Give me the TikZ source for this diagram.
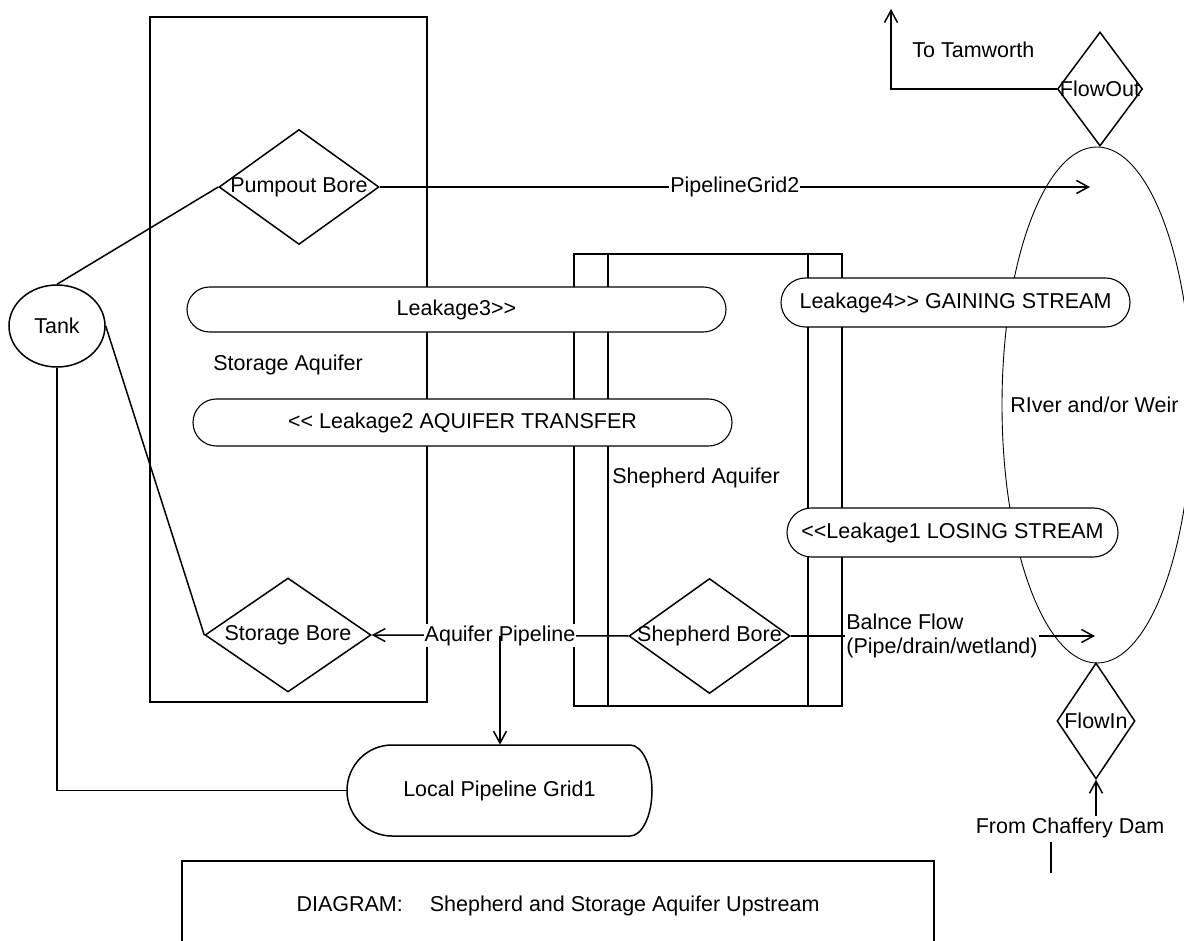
\documentclass[tikz,border=0pt]{standalone}
\usepackage{fontspec}
\setmainfont{Liberation Sans}
\usetikzlibrary{arrows.meta,shapes.geometric,shapes.misc}

\tikzset{
  ln/.style={line width=0.75pt},
  arr/.style={ln, -{Straight Barb[length=6pt,width=6.5pt]}},
  dia/.style={diamond, draw, ln, inner sep=0pt, fill=white},
  leak/.style={rounded rectangle, draw, line width=0.55pt, fill=white, inner sep=0pt},
  lbl/.style={fill=white, inner sep=0.5pt},
  txt/.style={inner sep=0pt, anchor=west},
  every node/.style={font=\fontsize{10.75}{12}\selectfont},
}

\begin{document}
\begin{tikzpicture}[x=0.5pt, y=-0.5pt]
  \useasboundingbox (0,0) rectangle (1184,941);
  \fill[white] (0,0) rectangle (1184,941);
  \clip (0,0) rectangle (1184,941);

  % aquifer outlines
  \draw[ln] (150,17) rectangle (427,702);
  \draw[ln] (574,254) rectangle (842,706);
  \draw[ln] (608,254) rectangle (808,706);

  % bores, tank and pipeline grid
  \node[dia, minimum width=80pt, minimum height=57.5pt, label=center:Pumpout Bore] (pb) at (299,187) {};
  \node[dia, minimum width=83pt, minimum height=57pt, label=center:Storage Bore] (sb) at (288,635) {};
  \node[dia, minimum width=80.5pt, minimum height=57.5pt, label=center:Shepherd Bore] (shb) at (709.5,636) {};
  \node[dia, minimum width=42.5pt, minimum height=57pt, label=center:FlowOut] (fo) at (1100,89) {};
  \node[dia, minimum width=39pt, minimum height=58pt, label=center:FlowIn] (fi) at (1096,721) {};
  \node[draw, ln, ellipse, minimum width=48pt, minimum height=41pt, inner sep=0pt] (tank) at (57,326) {Tank};
  \node[minimum width=152.5pt, minimum height=45.5pt, inner sep=0pt] (lpg) at (499.5,790.5) {Local Pipeline Grid1};
  \draw[ln] (392,745) -- (630,745)
    arc[start angle=-90, end angle=90, x radius=22, y radius=45.5]
    -- (392,836)
    arc[start angle=90, end angle=270, x radius=45, y radius=45.5] -- cycle;

  \coordinate (rgrid) at (1090,187);
  \coordinate (bfend) at (1095,636);
  \coordinate (tam) at (891,9);

  % pipes and flows
  \draw[ln] (tank.north) -- (pb.west);
  \draw[ln] (tank.east) -- (sb.west);
  \draw[ln] (tank.south) |- (lpg.west);
  \draw[arr] (pb.east) -- node[lbl] {PipelineGrid2} (rgrid);
  \draw[arr] (shb.west) -- node[lbl] (ap) {Aquifer Pipeline} (sb.east);
  \draw[arr] (ap.center) -- (ap.center |- lpg.north);
  \draw[arr] (shb.east) -- (bfend);
  \node[fill=white, inner sep=0.5pt, align=left, anchor=west] (bf) at (845,636)
    {Balnce Flow\\(Pipe/drain/wetland)};
  \draw[arr] (fo.west) -| (tam);
  \node[inner sep=1pt] (fcd) at (1070,828) {From Chaffery Dam};
  \draw[arr] (fcd.north -| fi.south) -- (fi.south);
  \draw[ln] (1051,842) -- (1051,873);

  % river
  \node[draw, line width=0.45pt, ellipse, minimum width=95pt, minimum height=258pt, inner sep=0pt] (river) at (1097,405) {};

  % leakage paths
  \node[leak, minimum width=269.5pt, minimum height=22.5pt] (l3) at (456.5,309.5) {Leakage3>{}>};
  \node[leak, minimum width=269.5pt, minimum height=23.5pt] (l2) at (462.5,422.5) {<{}< Leakage2 AQUIFER TRANSFER};
  \node[leak, minimum width=174.5pt, minimum height=24.5pt] (l4) at (955.5,302.5) {Leakage4>{}> GAINING STREAM};
  \node[leak, minimum width=165.5pt, minimum height=24.5pt] (l1) at (952.5,532.5) {<{}<Leakage1 LOSING STREAM};

  % area names
  \node[txt] (sa) at (213,365) {Storage Aquifer};
  \node[txt] (sha) at (612,478) {Shepherd Aquifer};
  \node[txt] (tt) at (912,50) {To Tamworth};
  \node[txt] (rw) at (1010,405) {RIver and/or Weir};

  % title
  \node[draw, ln, minimum width=376pt, minimum height=45pt] (title) at (558,906)
    {DIAGRAM:\hspace{13.5pt}Shepherd and Storage Aquifer Upstream};
\end{tikzpicture}
\end{document}
